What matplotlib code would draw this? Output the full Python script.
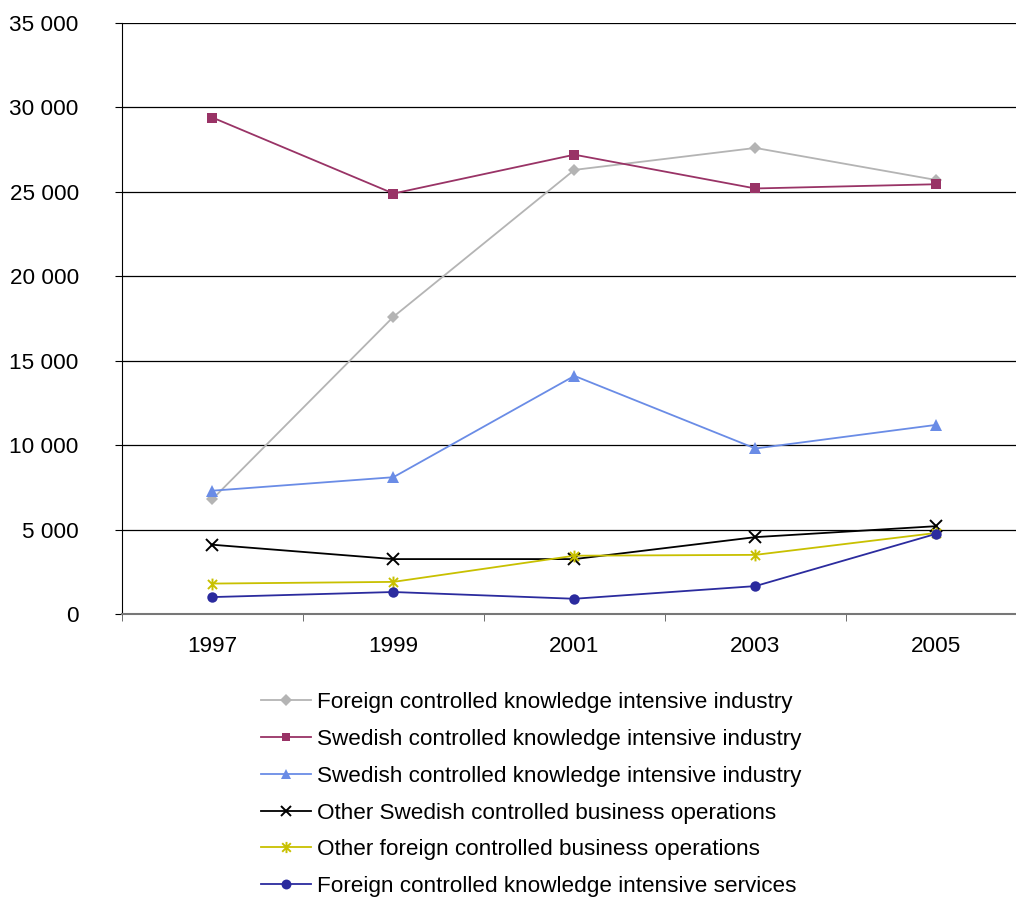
import matplotlib
matplotlib.use('Agg')
import matplotlib.pyplot as plt
from matplotlib.path import Path
from matplotlib.ticker import FuncFormatter, FixedLocator

plt.rcParams['font.family'] = ['Liberation Sans', 'DejaVu Sans']

years = ['1997', '1999', '2001', '2003', '2005']
foreign_ki_industry = [6800, 17600, 26300, 27600, 25700]
swedish_ki_industry = [29400, 24900, 27200, 25200, 25450]
swedish_ki_industry_2 = [7300, 8100, 14100, 9800, 11200]
other_swedish_ops = [4100, 3250, 3250, 4550, 5200]
other_foreign_ops = [1800, 1900, 3450, 3500, 4800]
foreign_ki_services = [1000, 1300, 900, 1650, 4750]

labels = ['Foreign controlled knowledge intensive industry',
          'Swedish controlled knowledge intensive industry',
          'Swedish controlled knowledge intensive industry',
          'Other Swedish controlled business operations',
          'Other foreign controlled business operations',
          'Foreign controlled knowledge intensive services']

# asterisk marker: x plus vertical bar
asterisk = Path([(-1, -1), (1, 1), (-1, 1), (1, -1), (0, -1.3), (0, 1.3)],
                [Path.MOVETO, Path.LINETO, Path.MOVETO, Path.LINETO, Path.MOVETO, Path.LINETO])

series = [
    (foreign_ki_industry, '#B4B4B4', 'D', 6, None),
    (swedish_ki_industry, '#993366', 's', 6.5, None),
    (swedish_ki_industry_2, '#6A8CE6', '^', 8, None),
    (other_swedish_ops, '#000000', 'x', 8, 1.4),
    (other_foreign_ops, '#C8C000', asterisk, 8.5, 1.4),
    (foreign_ki_services, '#2B2B9E', 'o', 7.5, None),
]

fs = 16.2

fig = plt.figure(figsize=(10.16, 8.98), dpi=100)
ax = fig.add_axes([0.12, 0.3163, 0.88, 0.6581])

x = list(range(len(years)))
handles = []
for (vals, col, mk, ms, mew), lab in zip(series, labels):
    kw = dict(markeredgewidth=mew) if mew else dict(markeredgewidth=0)
    h, = ax.plot(x, vals, color=col, marker=mk, markersize=ms, linewidth=1.3,
                 label=lab, markerfacecolor=col, markeredgecolor=col, **kw)
    handles.append(h)

ax.set_ylim(0, 35000)
ax.set_xlim(-0.5, 4.44)
ax.set_yticks(range(0, 35001, 5000))
ax.yaxis.set_major_formatter(FuncFormatter(lambda v, p: f'{int(v):,}'.replace(',', ' ')))
ax.yaxis.grid(True, color='black', linewidth=0.9)
ax.set_axisbelow(True)

ax.set_xticks(x)
ax.set_xticklabels(years)
ax.tick_params(axis='x', which='major', length=0, pad=16, labelsize=fs)
ax.xaxis.set_minor_locator(FixedLocator([-0.5, 0.5, 1.5, 2.5, 3.5]))
ax.tick_params(axis='x', which='minor', length=5, color='#555555', direction='out')
ax.tick_params(axis='y', length=5, color='black', labelsize=fs, pad=26)

ax.spines['top'].set_visible(False)
ax.spines['right'].set_visible(False)
ax.spines['left'].set_color('black')
ax.spines['bottom'].set_color('#777777')
ax.spines['bottom'].set_linewidth(1.5)

fig.legend(handles=handles, loc='upper left', bbox_to_anchor=(0.257, 0.229),
           frameon=False, fontsize=fs, handlelength=2.2, handletextpad=0.28,
           labelspacing=0.7, borderpad=0, borderaxespad=0, markerscale=0.95)

fig.savefig('out.png', dpi=100)
